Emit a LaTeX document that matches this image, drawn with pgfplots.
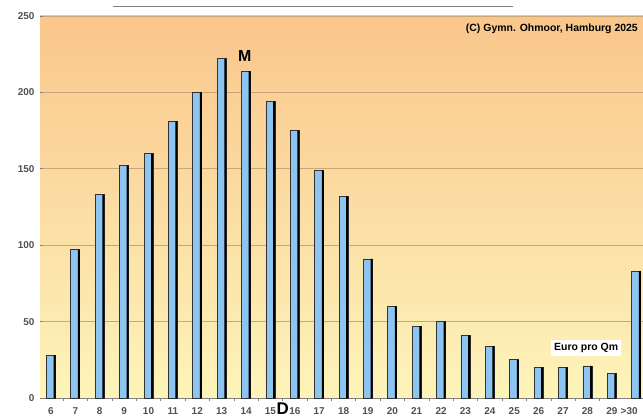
\documentclass[border=0pt]{standalone}
\usepackage{pgfplots}
\pgfplotsset{compat=1.18}
\usepackage{fontspec}
\setmainfont{Liberation Sans}
\definecolor{barblue}{RGB}{140,196,242}
\definecolor{bgtop}{RGB}{250,198,140}
\definecolor{bgbot}{RGB}{253,244,186}
\definecolor{gridc}{RGB}{200,166,118}
\definecolor{tickc}{RGB}{80,80,80}
\begin{document}
\begin{tikzpicture}
\begin{axis}[
  name=ax,
  scale only axis,
  width=603bp, height=382bp,
  xmin=-0.45, xmax=24.28,
  ymin=0, ymax=250,
  ytick={0,50,100,150,200,250},
  ymajorgrids,
  major grid style={draw=gridc, line width=0.7bp},
  axis background/.style={top color=bgtop, bottom color=bgbot},
  axis x line*=bottom,
  axis y line*=left,
  y axis line style={draw=none},
  x axis line style={draw=gray, line width=0.8bp},
  xtick={0,...,23},
  xticklabels={6,7,8,9,10,11,12,13,14,15,16,17,18,19,20,21,22,23,24,25,26,27,28,29},
  extra x ticks={24},
  extra x tick labels={>30},
  extra x tick style={xticklabel style={xshift=-7bp}, major x tick style={draw=none}},
  minor x tick num=1,
  major x tick style={draw=none},
  minor x tick style={draw=gray, line width=0.6bp},
  minor tick length=3bp,
  ytick style={draw=gray, line width=0.6bp},
  major tick length=3bp,
  /pgf/number format/assume math mode=true,
  tick label style={font=\fontsize{10}{11}\selectfont\bfseries, text=tickc},
  xticklabel style={yshift=-3bp},
  yticklabel style={xshift=-2bp},
  clip mode=individual,
  ybar,
]
\addplot[fill=barblue, draw=black!80, line width=0.8bp, bar width=9bp, bar shift=0bp] coordinates {
(0,28) (1,97) (2,133) (3,152) (4,160) (5,181) (6,200) (7,222) (8,214)
(9,194) (10,175) (11,149) (12,132) (13,91) (14,60) (15,47) (16,50)
(17,41) (18,34) (19,25) (20,20) (21,20) (22,21) (23,16) (24,83)
};
\addplot[fill=black, draw=none, bar width=2bp, bar shift=3.6bp] coordinates {
(0,28) (1,97) (2,133) (3,152) (4,160) (5,181) (6,200) (7,222) (8,214)
(9,194) (10,175) (11,149) (12,132) (13,91) (14,60) (15,47) (16,50)
(17,41) (18,34) (19,25) (20,20) (21,20) (22,21) (23,16) (24,83)
};
\node[font=\fontsize{16}{16}\selectfont\bfseries] at (axis cs:7.95,224) {M};
\node[font=\fontsize{17}{17}\selectfont\bfseries] at (axis cs:9.5,-7) {D};
\node[fill=white, inner sep=3bp, font=\fontsize{10.5}{11}\selectfont\bfseries] at (axis cs:21.95,32.7) {Euro pro Qm};
\end{axis}
\node[anchor=east, inner sep=0pt, font=\fontsize{10.5}{11}\selectfont\bfseries] at ([xshift=598bp,yshift=-13bp]ax.north west) {(C) Gymn. Ohmoor, Hamburg 2025};
\draw[gray, line width=0.8bp] ([xshift=73bp,yshift=10bp]ax.north west) -- ([xshift=473bp,yshift=10bp]ax.north west);
\pgfresetboundingbox
\path ([xshift=-40bp,yshift=-21bp]ax.south west) rectangle ([yshift=16bp]ax.north east);
\end{tikzpicture}
\end{document}
